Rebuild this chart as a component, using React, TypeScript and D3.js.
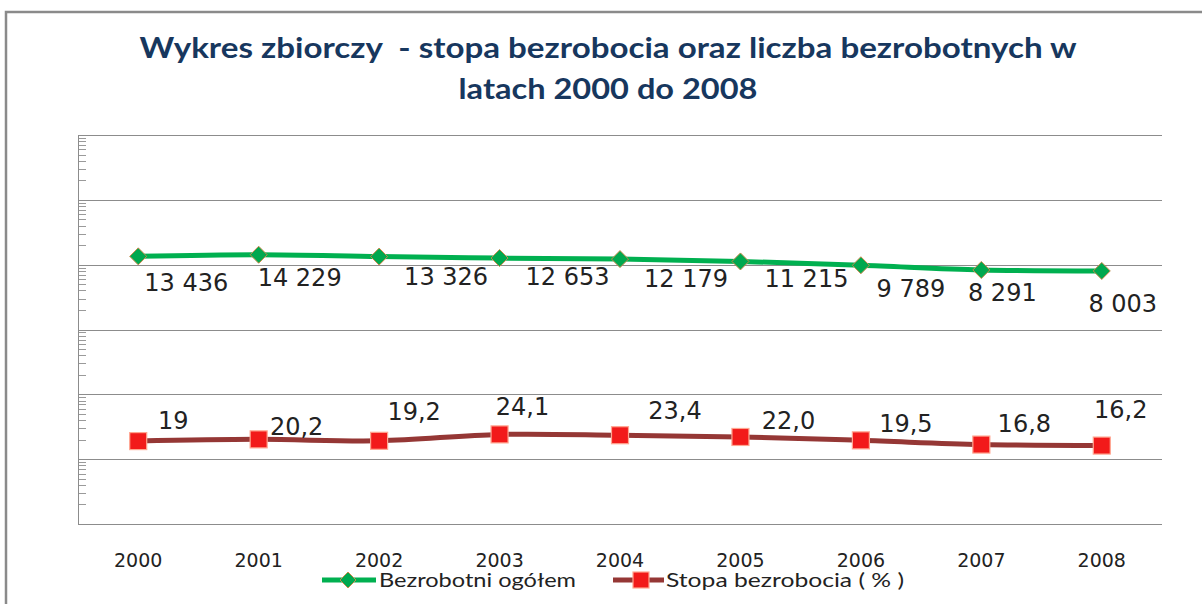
import React from 'react';
import * as d3 from 'd3';

const years = ['2000', '2001', '2002', '2003', '2004', '2005', '2006', '2007', '2008'];
const unemployedTotal = [13436, 14229, 13326, 12653, 12179, 11215, 9789, 8291, 8003];
const unemploymentRate = [19, 20.2, 19.2, 24.1, 23.4, 22.0, 19.5, 16.8, 16.2];
const rateLabels = ['19', '20,2', '19,2', '24,1', '23,4', '22,0', '19,5', '16,8', '16,2'];
const titleLines = ['Wykres zbiorczy \u00a0- stopa bezrobocia oraz liczba bezrobotnych w', 'latach 2000 do 2008'];
const seriesNames = ['Bezrobotni ogółem', 'Stopa bezrobocia ( % )'];

// label placement offsets (dx, dy) relative to the data point
const totalLabelOffsets = [[48, 35], [41, 31], [67, 28], [68, 27], [66, 28], [66, 26], [50, 32], [21, 31], [21, 41]];
const rateLabelOffsets = [[35, -12], [38, -4], [35, -21], [23, -19], [55, -16], [48, -8], [45, -8], [43, -13], [19, -28]];

const W = 1202;
const H = 604;
const plot = { left: 78, right: 1162, top: 135, bottom: 524 };

const plLocale = d3.formatLocale({ decimal: ',', thousands: '\u00a0', grouping: [3], currency: ['', ' zł'] });
const fmtTotal = plLocale.format(',d');

export default function App() {
  const x = d3.scaleBand<string>().domain(years).range([plot.left, plot.right]);
  const y = d3.scaleLog().domain([1, 1e6]).range([plot.bottom, plot.top]);
  const cx = (yr: string) => (x(yr) as number) + x.bandwidth() / 2;

  const majors = d3.range(1, 7).map((d) => Math.pow(10, d));
  const minors: number[] = [];
  for (let d = 0; d < 6; d++) for (let k = 2; k <= 9; k++) minors.push(k * Math.pow(10, d));

  const line = d3
    .line<number>()
    .x((_, i) => cx(years[i]))
    .y((v) => y(v))
    .curve(d3.curveCatmullRom.alpha(0.5));

  const green = '#00B050';
  const darkRed = '#953735';
  const sans = 'DejaVu Sans, Verdana, sans-serif';
  const calib = 'Lato, "Open Sans", sans-serif';

  return (
    <svg width={W} height={H} style={{ position: 'absolute', left: 0, top: 0, background: '#fff' }}>
      <rect x={0} y={0} width={W} height={H} fill="#fff" />
      <rect x={6} y={12} width={W + 20} height={H + 20} fill="#fff" stroke="#8a8a8a" strokeWidth={2.5} />

      {/* title */}
      <text x={608} y={58} textAnchor="middle" fontFamily={calib} fontWeight={700} fontSize={29} fill="#17375E"
        textLength={937} lengthAdjust="spacingAndGlyphs">{titleLines[0]}</text>
      <text x={608} y={99} textAnchor="middle" fontFamily={calib} fontWeight={700} fontSize={29} fill="#17375E"
        textLength={299} lengthAdjust="spacingAndGlyphs">{titleLines[1]}</text>

      {/* gridlines */}
      {majors.map((m) => (
        <line key={m} x1={plot.left} x2={plot.right} y1={Math.round(y(m)) + 0.5} y2={Math.round(y(m)) + 0.5} stroke="#8c8c8c" strokeWidth={1} />
      ))}
      {/* minor ticks */}
      {minors.map((m) => (
        <line key={m} x1={plot.left} x2={plot.left + 8} y1={Math.round(y(m)) + 0.5} y2={Math.round(y(m)) + 0.5} stroke="#9a9a9a" strokeWidth={1} />
      ))}
      {/* axes */}
      <line x1={plot.left + 0.5} x2={plot.left + 0.5} y1={plot.top} y2={plot.bottom} stroke="#8c8c8c" strokeWidth={1} />
      <line x1={plot.left} x2={plot.right} y1={plot.bottom + 0.5} y2={plot.bottom + 0.5} stroke="#8c8c8c" strokeWidth={1} />

      {/* x labels */}
      {years.map((yr) => (
        <text key={yr} x={cx(yr)} y={567} textAnchor="middle" fontFamily={sans} fontSize={19} fill="#222">{yr}</text>
      ))}

      {/* series lines */}
      <path d={line(unemployedTotal) || ''} fill="none" stroke={green} strokeWidth={5} />
      <path d={line(unemploymentRate) || ''} fill="none" stroke={darkRed} strokeWidth={5} />

      {/* markers */}
      {unemployedTotal.map((v, i) => {
        const px = cx(years[i]);
        const py = y(v);
        const r = 8.5;
        return (
          <path key={'g' + i} d={`M${px},${py - r}L${px + r},${py}L${px},${py + r}L${px - r},${py}Z`}
            fill="#00A84F" stroke="#C8894A" strokeWidth={1} />
        );
      })}
      {unemploymentRate.map((v, i) => {
        const px = cx(years[i]);
        const py = y(v);
        return (
          <rect key={'r' + i} x={px - 8.5} y={py - 8.5} width={17} height={17} fill="#F21A1A" stroke="#FFA590" strokeWidth={1.2} />
        );
      })}

      {/* data labels */}
      {unemployedTotal.map((v, i) => (
        <text key={'gl' + i} x={cx(years[i]) + totalLabelOffsets[i][0]} y={y(v) + totalLabelOffsets[i][1]}
          textAnchor="middle" fontFamily={sans} fontSize={24} fill="#222">{fmtTotal(v)}</text>
      ))}
      {unemploymentRate.map((v, i) => (
        <text key={'rl' + i} x={cx(years[i]) + rateLabelOffsets[i][0]} y={y(v) + rateLabelOffsets[i][1]}
          textAnchor="middle" fontFamily={sans} fontSize={24} fill="#222">{rateLabels[i]}</text>
      ))}

      {/* legend */}
      <g>
        <line x1={322} x2={376} y1={580} y2={580} stroke={green} strokeWidth={5} />
        <path d="M348,572L356,580L348,588L340,580Z" fill="#00A84F" stroke="#C8894A" strokeWidth={1} />
        <text x={379} y={587} fontFamily={calib} fontSize={20} fill="#222" textLength={197} lengthAdjust="spacingAndGlyphs">{seriesNames[0]}</text>
        <line x1={613} x2={664} y1={580} y2={580} stroke={darkRed} strokeWidth={5} />
        <rect x={633} y={572} width={16} height={16} fill="#F21A1A" stroke="#FFA590" strokeWidth={1.2} />
        <text x={666} y={587} fontFamily={calib} fontSize={20} fill="#222" textLength={238} lengthAdjust="spacingAndGlyphs">{seriesNames[1]}</text>
      </g>
    </svg>
  );
}
